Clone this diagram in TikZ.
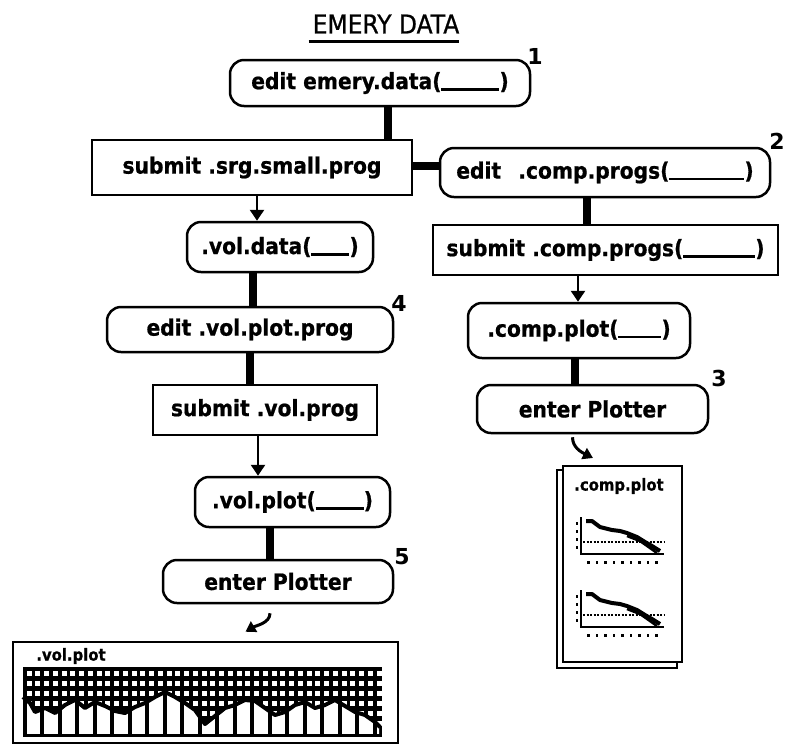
\documentclass[tikz,border=0pt]{standalone}
\usepackage{fontspec}
\setmainfont{DejaVu Sans}
\newfontfamily\chfont[FakeStretch=0.9,FakeBold=0.8]{DejaVu Sans}
\usetikzlibrary{arrows.meta,calc}
\newcommand\myblank[1]{\rule[-1.5pt]{#1}{2.5pt}}
\begin{document}
\begin{tikzpicture}[x=1pt,y=-1pt,
  rnode/.style={draw, line width=2.5pt, rounded corners=14pt, inner sep=0pt, font=\chfont\bfseries\fontsize{22.5}{24}\selectfont},
  bnode/.style={draw, line width=2.5pt, inner sep=0pt, font=\chfont\bfseries\fontsize{22.5}{24}\selectfont},
  conn/.style={line width=8pt},
  arr/.style={line width=2.5pt, -{Triangle[width=14pt,length=11pt]}},
  carr/.style={line width=3pt, -{Triangle[width=12pt,length=10pt]}},
  num/.style={font=\bfseries\fontsize{22}{24}\selectfont, inner sep=0pt},
  ptitle/.style={font=\chfont\bfseries\fontsize{16.5}{18}\selectfont, inner sep=0pt},
  volcurve/.style={insert path={-- (23,697) -- (30,703) -- (35,712) -- (45,708) -- (55,713) -- (65,705) -- (75,700) -- (85,708) -- (95,702) -- (105,706) -- (115,711) -- (125,713) -- (135,707) -- (145,703) -- (155,697) -- (165,692) -- (175,697) -- (185,703) -- (195,710) -- (205,724) -- (215,716) -- (225,708) -- (235,705) -- (245,700) -- (255,701) -- (265,708) -- (275,715) -- (285,712) -- (295,705) -- (305,702) -- (315,708) -- (325,705) -- (335,700) -- (345,706) -- (355,712) -- (365,715) -- (375,722) -- (380,727)}}
]
\useasboundingbox (0,0) rectangle (785,748);

% title
\node[font=\chfont\fontsize{26}{28}\selectfont, inner sep=0pt] (title) at (386,24) {EMERY DATA};
\draw[line width=3pt] ([xshift=-4pt,yshift=-8pt]title.south west) -- ([xshift=0pt,yshift=-8pt]title.south east);

% nodes
\node[rnode, minimum width=300pt, minimum height=46pt] (n1) at (380,83) {edit emery.data(\myblank{58pt})};
\node[bnode, minimum width=320pt, minimum height=55pt] (s1) at (252,167.5) {submit .srg.small.prog};
\node[rnode, minimum width=330pt, minimum height=49pt] (n2) at (605,172.5) {edit\hspace{0.45em} .comp.progs(\myblank{75pt})};
\node[bnode, minimum width=345pt, minimum height=50pt] (s2) at (605.5,250) {submit .comp.progs(\myblank{72pt})};
\node[rnode, minimum width=222pt, minimum height=55pt] (n3) at (579,330.5) {.comp.plot(\myblank{43pt})};
\node[rnode, minimum width=231pt, minimum height=48pt] (n4) at (592.5,409) {enter Plotter};
\node[rnode, minimum width=186pt, minimum height=50pt] (v1) at (280,247) {.vol.data(\myblank{38pt})};
\node[rnode, minimum width=286pt, minimum height=45pt] (v2) at (250,329.5) {edit .vol.plot.prog};
\node[bnode, minimum width=224pt, minimum height=50pt] (v3) at (265,410) {submit .vol.prog};
\node[rnode, minimum width=195pt, minimum height=50pt] (v4) at (292.5,502) {.vol.plot(\myblank{48pt})};
\node[rnode, minimum width=230pt, minimum height=43pt] (v5) at (278,581.5) {enter Plotter};

% numbers
\node[num] (l1) at (535,56) {1};
\node[num] (l2) at (777,141) {2};
\node[num] (l3) at (719,378) {3};
\node[num] (l4) at (399,303) {4};
\node[num] (l5) at (402,557) {5};

% connectors
\draw[conn] ([xshift=8pt]n1.south) -- ([xshift=136pt]s1.north);
\draw[conn] ([yshift=1.5pt]s1.east) -- ([yshift=6.5pt]n2.west);
\draw[conn] ([xshift=-18pt]n2.south) -- ([xshift=-18.5pt]s2.north);
\draw[arr] ([xshift=-27.5pt]s2.south) -- ([xshift=-1pt]n3.north);
\draw[conn] ([xshift=-4pt]n3.south) -- ([xshift=-17.5pt]n4.north);
\draw[arr] ([xshift=5pt]s1.south) -- ([xshift=-23pt]v1.north);
\draw[conn] ([xshift=-27pt]v1.south) -- ([xshift=3pt]v2.north);
\draw[conn] (v2.south) -- ([xshift=-15pt]v3.north);
\draw[arr] ([xshift=-7pt]v3.south) -- ([xshift=-34.5pt]v4.north);
\draw[conn] ([xshift=-22.5pt]v4.south) -- ([xshift=-8pt]v5.north);

% volume plot page
\node[draw, line width=2.5pt, minimum width=385pt, minimum height=101pt, inner sep=0pt] (volpage) at (205.5,692.5) {};
\node[ptitle] (voltitle) at (71,656) {.vol.plot};
\fill (23,667) rectangle (382,737);
\begin{scope}
  \clip (23,667) [volcurve] -- (382,729) -- (382,667) -- cycle;
  \foreach \i in {0,...,40} {
    \foreach \j in {0,...,6} {
      \fill[white] ({26.5+\i*8.75},{671+\j*10}) rectangle ++(5,4.5);
    }
  }
\end{scope}
\begin{scope}
  \clip (23,737) [volcurve] -- (382,729) -- (382,737) -- cycle;
  \clip (26,667) rectangle (379,734);
  \foreach \i in {0,...,20} {
    \fill[white] ({26.5+\i*17.5},660) rectangle ++(13.5,74);
  }
\end{scope}
\draw[line width=4pt, line join=round] (23,697) [volcurve];

% comp plot page
\draw[line width=2pt] (563,470) -- (557,470) -- (557,668) -- (677,668) -- (677,662);
\node[draw, line width=2pt, minimum width=119pt, minimum height=196pt, inner sep=0pt] (comppage) at (622.5,564) {};
\node[ptitle] (comptitle) at (619,486) {.comp.plot};
\foreach \dy in {0,73} {
  \begin{scope}[shift={(0,\dy)}]
    \draw[line width=2.5pt] (581,517) -- (581,554) -- (664,554);
    \foreach \t in {522,530,538,546} { \fill (575.5,\t) rectangle ++(2.5,2.5); }
    \draw[line width=2pt, dash pattern=on 2pt off 1.5pt] (583,542) -- (664,542);
    \foreach \k in {0,...,8} { \fill ({587+\k*8.5},561) rectangle ++(2.5,2.5); }
    \draw[line width=4pt, line join=round] (586,521) -- (592,521) -- (600,527) -- (612,530) -- (620,531) -- (627,533) -- (637,537) -- (645,542) -- (652,546) -- (660,551);
    \draw[line width=2.5pt] (627,536) -- (640,541) -- (650,548) -- (657,553);
  \end{scope}
}

% curved arrows
\draw[carr] ($(v5.south)+(-8,9)$) .. controls +(0,10) and +(10,-6) .. ($(volpage.north)+(40,-9)$);
\draw[carr] ($(n4.south)+(-20,3)$) .. controls +(0,10) and +(-12,-6) .. ($(comppage.north)+(-29.5,-7)$);
\end{tikzpicture}
\end{document}
